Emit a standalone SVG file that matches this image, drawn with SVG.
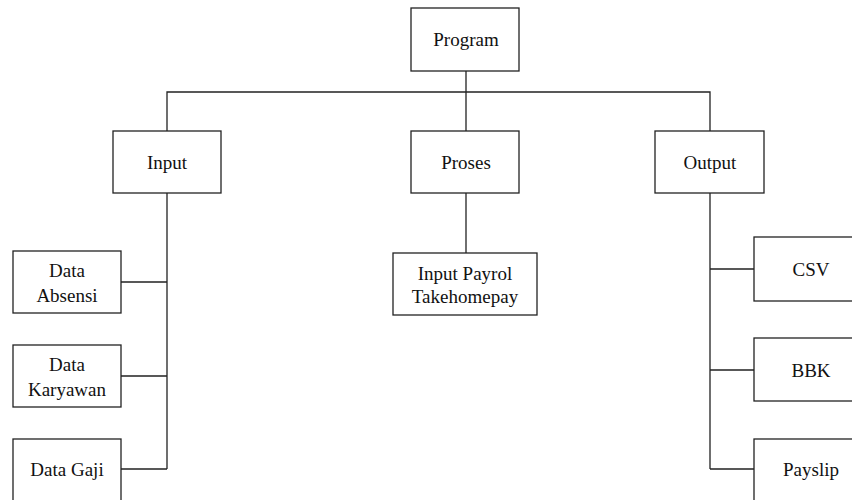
<svg xmlns="http://www.w3.org/2000/svg" width="852" height="500" viewBox="0 0 852 500">
<style>
.box{fill:#fff;stroke:#222;stroke-width:1.3}
.ln{fill:none;stroke:#222;stroke-width:1.3}
text{font-family:"Liberation Serif","Times New Roman",serif;font-size:19px;fill:#111;text-anchor:middle}
</style>
<rect width="852" height="500" fill="#fff"/>
<g id="connectors">
<path class="ln" d="M466 71V92M167 131V92H710V131M466 92V131"/>
<path class="ln" d="M167 193V469M121 282H167M121 376H167M121 469H167"/>
<path class="ln" d="M466 193V253"/>
<path class="ln" d="M710 193V469M710 269H754M710 370H754M710 469H754"/>
</g>
<g id="program"><rect class="box" x="411" y="8" width="108" height="63"/><text x="466" y="46">Program</text></g>
<g id="input"><rect class="box" x="113" y="131" width="108" height="62"/><text x="167" y="169">Input</text></g>
<g id="proses"><rect class="box" x="411" y="131" width="108" height="62"/><text x="466" y="169">Proses</text></g>
<g id="output"><rect class="box" x="655" y="131" width="109" height="62"/><text x="710" y="169">Output</text></g>
<g id="absensi"><rect class="box" x="13" y="251" width="108" height="62"/><text x="67" y="277">Data</text><text x="67" y="302">Absensi</text></g>
<g id="karyawan"><rect class="box" x="13" y="345" width="108" height="62"/><text x="67" y="371">Data</text><text x="67" y="396">Karyawan</text></g>
<g id="gaji"><rect class="box" x="13" y="439" width="108" height="64"/><text x="67" y="476">Data Gaji</text></g>
<g id="payrol"><rect class="box" x="393" y="253" width="144" height="62"/><text x="465" y="280">Input Payrol</text><text x="465" y="303">Takehomepay</text></g>
<g id="csv"><rect class="box" x="754" y="237" width="114" height="64"/><text x="811" y="276">CSV</text></g>
<g id="bbk"><rect class="box" x="754" y="338" width="114" height="63"/><text x="811" y="377">BBK</text></g>
<g id="payslip"><rect class="box" x="754" y="439" width="114" height="64"/><text x="811" y="476">Payslip</text></g>
</svg>
